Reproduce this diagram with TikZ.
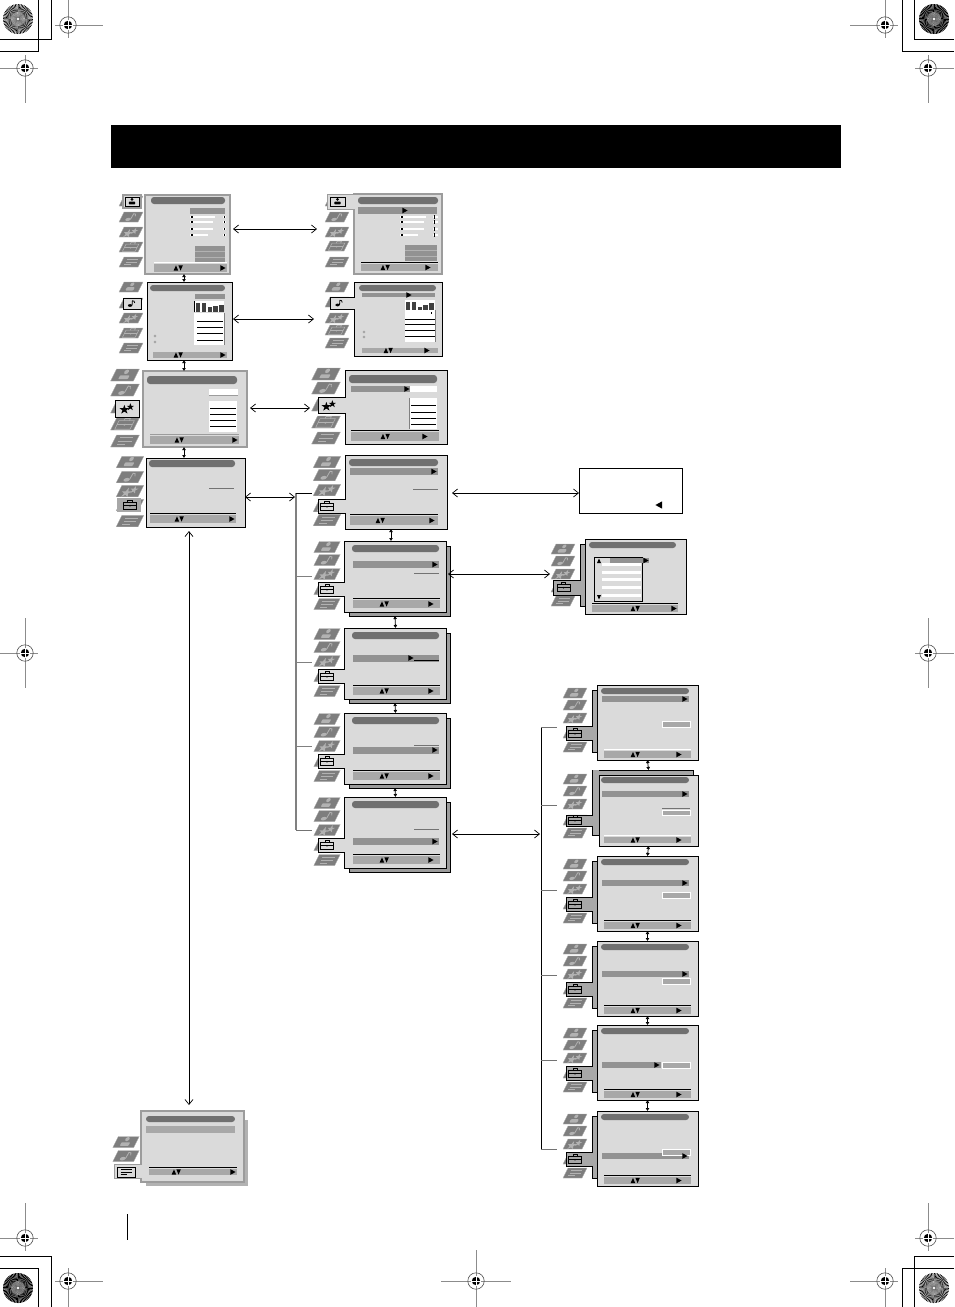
\documentclass[tikz,border=0pt]{standalone}
\usepackage{tikz}
\usetikzlibrary{arrows.meta}

\definecolor{panelgray}{HTML}{DADADA}
\definecolor{titlegray}{HTML}{707070}
\definecolor{rowgray}{HTML}{929292}
\definecolor{bargray}{HTML}{A8A8A8}
\definecolor{backgray}{HTML}{9C9C9C}
\definecolor{icongray}{HTML}{7E7E7E}
\definecolor{glyphgray}{HTML}{B2B2B2}

\tikzset{
  panelk/.style={draw=black,line width=1,fill=panelgray,inner sep=0,outer sep=0},
  panelg/.style={draw=backgray,line width=1.2,fill=panelgray,inner sep=0,outer sep=0},
  backk/.style={draw=black,line width=1,fill=backgray,inner sep=0,outer sep=0},
  backg/.style={fill=glyphgray,inner sep=0,outer sep=0},
  longarrow/.style={line width=.7,{Straight Barb[length=5,width=8]}-{Straight Barb[length=5,width=8]}},
  tinyarrow/.style={line width=.8,{Latex[length=3,width=4]}-{Latex[length=3,width=4]}}
}

% the five little pictures of the menu column
\newcommand{\icperson}[1]{%
  \fill[#1] (0,-2.4) circle (1.7);
  \fill[#1,rounded corners=.8] (-3.6,3.2) -- (-3.6,.2) -- (3.6,.2) -- (3.6,3.2) -- cycle;}
\newcommand{\icnote}[1]{%
  \fill[#1] (-1.6,2.2) ellipse (2.4 and 1.5);
  \draw[#1,line width=.8] (.6,2) -- (1,-3) .. controls (2.4,-3.4) and (3.4,-2.4) .. (3.6,-.6);}
\newcommand{\icstar}[1]{%
  \fill[#1] (-2.2,-2.6) -- (-1.2,.2) -- (1.8,.2) -- (-.6,1.9) -- (.4,4.6) -- (-2.2,3) -- (-4.8,4.6) -- (-3.8,1.9) -- (-6.2,.2) -- (-3.2,.2) -- cycle;
  \fill[#1] (2.8,-4) -- (3.6,-1.8) -- (5.8,-1.8) -- (4,-.5) -- (4.8,1.8) -- (2.8,.4) -- (.8,1.8) -- (1.6,-.5) -- (-.2,-1.8) -- (2,-1.8) -- cycle;}
\newcommand{\iccase}[1]{%
  \draw[#1,line width=.6] (-5.8,-2.6) rectangle (5.8,4);
  \draw[#1,line width=.6] (-2,-2.6) -- (-2,-4.2) -- (2,-4.2) -- (2,-2.6);
  \draw[#1,line width=.6] (-5.8,.6) -- (5.8,.6);
  \fill[#1] (0,.6) circle (.8);}
\newcommand{\iclines}[1]{%
  \draw[#1,line width=.7] (-5,-2.4) -- (5,-2.4) (-5,0) -- (5,0) (-5,2.4) -- (1,2.4);}

\newcommand{\tvicon}[4]{%
  \begin{scope}[shift={(#2,#3)},scale=#4]
    \fill[icongray,draw=glyphgray,line width=.3] (-12,5) -- (-7,-5) -- (12,-5) -- (7,5) -- cycle;
    \begin{scope}[xslant=.5,scale=1.1]
      #1{glyphgray}
    \end{scope}
  \end{scope}}
\newcommand{\tvicons}[7]{%
  \tvicon{\icperson}{#1}{#3}{#2}
  \tvicon{\icnote}{#1}{#4}{#2}
  \tvicon{\icstar}{#1}{#5}{#2}
  \tvicon{\iccase}{#1}{#6}{#2}
  \tvicon{\iclines}{#1}{#7}{#2}}
\newcommand{\selglyph}[4]{%
  \begin{scope}[shift={(#2,#3)},scale=#4]
    #1{black}
  \end{scope}}

% tab stuck to the left side of a panel: x0 y0 x1 y1 fill edge
\newcommand{\paneltab}[6]{%
  \draw[fill=#5,draw=#6,line width=1] (#1,#2) rectangle (#3,#4);
  \fill[#5] (#3-1,#2+.5) rectangle (#3+1,#4-.5);}

\newcommand{\titlebar}[4]{\fill[titlegray,rounded corners=3] (#1,#3) rectangle (#2,#4);}
\newcommand{\rowbar}[4]{\fill[rowgray] (#1,#3) rectangle (#2,#4);}
\newcommand{\updown}[2]{%
  \fill[black] (#1-4.4,#2+2.6) -- (#1-2,#2-2.6) -- (#1+.2,#2+2.6) -- cycle;
  \fill[black] (#1+.4,#2-2.6) -- (#1+2.6,#2+2.6) -- (#1+4.8,#2-2.6) -- cycle;}
\newcommand{\rightmk}[2]{\fill[black] (#1-2.6,#2-2.8) -- (#1+2.6,#2) -- (#1-2.6,#2+2.8) -- cycle;}
\newcommand{\leftmk}[2]{\fill[black] (#1+3,#2-3.6) -- (#1-3.6,#2) -- (#1+3,#2+3.6) -- cycle;}
% x0 x1 y0 y1 updown-x right-x line colour
\newcommand{\menubar}[7]{%
  \pgfmathsetmacro{\barmid}{(#3+#4)/2}
  \draw[#7,line width=.9] (#1,#3-1.4) -- (#2,#3-1.4);
  \fill[bargray] (#1,#3) rectangle (#2,#4);
  \updown{#5}{\barmid}
  \rightmk{#6}{\barmid}}
% bar chart: left edge, base line, five heights
\newcommand{\eqbars}[7]{%
  \foreach \n/\h in {0/#3,1/#4,2/#5,3/#6,4/#7}
    \fill[black!75] (#1+\n*5.8,#2) rectangle (#1+\n*5.8+4.4,#2-\h);}
\newcommand{\regmark}[6]{%
  \draw[black!45,line width=.8] (#1-#3,#2) -- (#1+#4,#2) (#1,#2-#5) -- (#1,#2+#6);
  \draw[black!70,line width=.6] (#1,#2) circle (8.2);
  \fill[black] (#1,#2) circle (4.2);
  \draw[white,line width=.6] (#1-5,#2) -- (#1+5,#2) (#1,#2-5) -- (#1,#2+5);}
% wheel in the corner: x y sector-width
\newcommand{\sunburst}[3]{%
  \foreach \a in {0,6,...,354}
    \fill[black] (#1,#2) -- ++(\a:15) arc (\a:\a+#3:15) -- cycle;
  \fill[white,opacity=.3] (#1,#2) circle (7);
  \fill[white] (#1,#2) circle (1.4);}

% left hand setup panels with the grey panel behind them
\newcommand{\stackmenu}[3]{%
  \node[backk,anchor=north west,minimum width=101,minimum height=70] (#1b) at (349,#2+5) {};
  \node[panelk,anchor=north west,minimum width=102,minimum height=71] (#1) at (344,#2) {};
  \tvicons{327}{1.1}{#2+6}{#2+19}{#2+33}{#2+48}{#2+63}
  \paneltab{318}{#2+41}{344}{#2+55}{panelgray}{black}
  \selglyph{\iccase}{327}{#2+48}{1.1}
  \titlebar{352}{439}{#2+4}{#2+11}
  \rowbar{353}{439}{#3}{#3+7}
  \menubar{353}{440}{#2+59}{#2+67}{384}{431}{black}}
% right hand panels with the strip at their left
\newcommand{\sidemenu}[6]{%
  \fill[bargray] (592,#2+5) rectangle (598,#2+67);
  \draw[black,line width=1] (598,#2+5) -- (592,#2+5) -- (592,#2+67) -- (598,#2+67);
  \node[panelk,anchor=north west,minimum width=101,minimum height=75] (#1) at (597,#2) {};
  \tvicons{575}{1}{#2+8}{#2+20}{#2+33}{#2+48}{#2+62}
  \paneltab{566}{#2+41}{592}{#2+55}{bargray}{black}
  \selglyph{\iccase}{575}{#2+48}{1.1}
  \titlebar{601}{689}{#2+3}{#2+9}
  \rowbar{602}{#5}{#3}{#3+6}
  \draw[fill=bargray,draw=white,line width=.8] (662,#4) rectangle (690,#4+6);
  \rightmk{#5-4}{#3+3}
  \menubar{604}{691}{#2+66}{#2+73}{635}{679}{#6}}

\begin{document}
\begin{tikzpicture}[x=1pt,y=-1pt]
  \useasboundingbox (0,0) rectangle (954,1307);

  % crop marks and wheels in the corners
  \draw[black,line width=.9] (0,51) -- (38,51) -- (38,0) (0,39) -- (51,39) -- (51,0);
  \draw[black,line width=.9] (954,51) -- (902,51) -- (902,0) (954,39) -- (914,39) -- (914,0);
  \draw[black,line width=.9] (0,1256) -- (51,1256) -- (51,1307) (0,1268) -- (38,1268) -- (38,1307);
  \draw[black,line width=.9] (954,1256) -- (914,1256) -- (914,1307) (954,1268) -- (902,1268) -- (902,1307);
  \sunburst{18}{19}{3}
  \sunburst{934}{19}{4.4}
  \sunburst{18}{1288}{4.4}
  \sunburst{934}{1288}{3}
  \regmark{68}{25}{13}{35}{25}{13}
  \regmark{885}{25}{35}{13}{25}{13}
  \regmark{25}{68}{25}{13}{13}{35}
  \regmark{928}{68}{13}{26}{13}{35}
  \regmark{25}{653}{25}{13}{35}{35}
  \regmark{928}{653}{13}{26}{35}{35}
  \regmark{25}{1238}{25}{13}{35}{13}
  \regmark{928}{1238}{13}{26}{35}{13}
  \regmark{68}{1281}{13}{35}{13}{26}
  \regmark{476}{1281}{35}{35}{31}{26}
  \regmark{885}{1281}{35}{13}{13}{26}

  % heading band and the rule beside the page number
  \fill[black] (111,125) rectangle (841,168);
  \fill[black] (126.5,1214) rectangle (128,1240);

  % picture menu
  \node[panelg,anchor=north west,minimum width=85,minimum height=79] (picmenu) at (145,195) {};
  \tvicons{131}{1}{201}{217}{232}{247}{262}
  \draw[backgray,fill=panelgray,line width=1.2] (123,195) rectangle (141,208);
  \draw[black,line width=.8,fill=panelgray] (125,197) rectangle (139,206);
  \selglyph{\icperson}{132}{201.5}{.9}
  \titlebar{151}{225}{197}{204}
  \rowbar{190}{225}{208}{214}
  \foreach \y/\e in {217/215,222/213,229/213,235/208} {
    \fill[white] (190,\y-1.2) rectangle (\e,\y+1.2);
    \fill[black] (191,\y-.6) rectangle (193,\y+.6);
    \fill[white] (222.5,\y-1.2) rectangle (225.5,\y+1.2);
    \fill[black] (223.5,\y-.6) rectangle (224.5,\y+.6);
  }
  \fill[rowgray] (195,246) rectangle (225,262);
  \draw[glyphgray,line width=.7] (195,251) -- (225,251) (195,257) -- (225,257);
  \menubar{154}{227}{264}{272}{178}{223}{white}

  % picture menu, first line picked
  \fill[panelgray] (327,194) rectangle (355,209);
  \node[panelg,anchor=north west,minimum width=88,minimum height=80] (picsel) at (354,194) {};
  \tvicons{337}{1}{201}{217}{232}{246}{262}
  \paneltab{327}{194}{354}{209}{panelgray}{backgray}
  \draw[black,line width=.8] (330,197) rectangle (345,206);
  \selglyph{\icperson}{337.5}{201.5}{.9}
  \titlebar{358}{438}{197}{204}
  \rowbar{358}{437}{207}{214}
  \rightmk{405}{210.5}
  \foreach \y/\e in {217/426,222/424,229/424,235/418} {
    \fill[white] (400,\y-1.2) rectangle (\e,\y+1.2);
    \fill[black] (401,\y-.6) rectangle (403,\y+.6);
    \fill[white] (433,\y-1.2) rectangle (438,\y+1.2);
    \fill[black] (434,\y-1.6) rectangle (435,\y+1.6);
  }
  \fill[rowgray] (405,245) rectangle (437,261);
  \draw[glyphgray,line width=.7] (405,250) -- (437,250) (405,256) -- (437,256);
  \menubar{361}{438}{264}{271}{385}{428}{black}

  % sound menu
  \node[panelk,anchor=north west,minimum width=85,minimum height=78] (sndmenu) at (147,282) {};
  \tvicons{131}{1}{287}{303}{318}{333}{348}
  \draw[black,line width=1,fill=panelgray] (123,298) rectangle (141,309);
  \selglyph{\icnote}{131.5}{303.5}{.9}
  \titlebar{150}{225}{285}{291}
  \rowbar{195}{225}{294}{299}
  \fill[white] (194,301) rectangle (224,312);
  \eqbars{196}{311.5}{9}{9}{5}{6}{7}
  \draw[black,line width=.8] (194.5,301) -- (194.5,312);
  \fill[white] (194,313) rectangle (224,345);
  \draw[black!50,line width=.7] (224,313) -- (224,345);
  \foreach \y in {321,327,333,340}
    \draw[black,line width=.7] (197,\y) -- (223,\y);
  \draw[black!45,line width=.4] (155,336) circle (1.2) (155,342) circle (1.2);
  \menubar{153}{227}{352}{358}{178}{223}{panelgray}

  % sound menu, first line picked
  \node[panelk,anchor=north west,minimum width=88,minimum height=74] (sndsel) at (354,282) {};
  \tvicons{337}{1}{287}{302}{318}{330}{343}
  \paneltab{330}{297}{354}{309}{panelgray}{black}
  \selglyph{\icnote}{339}{303}{.9}
  \titlebar{359}{436}{285}{291}
  \rowbar{362}{435}{293}{297}
  \rightmk{409}{295}
  \fill[white] (405,300) rectangle (435,310);
  \eqbars{406}{310}{8}{8}{3}{5}{7}
  \fill[white] (405,310) rectangle (435,342);
  \draw[black!50,line width=.7] (435,310) -- (435,342);
  \foreach \y in {319,324,330,336}
    \draw[black,line width=.7] (405,\y) -- (435,\y);
  \fill[black] (431,312) rectangle (432,314);
  \draw[black!45,line width=.4] (364,332) circle (1.2) (364,337) circle (1.2);
  \menubar{362}{438}{348}{353}{388}{427}{panelgray}

  % features menu
  \node[panelg,anchor=north west,minimum width=104,minimum height=76] (fxmenu) at (143,371) {};
  \tvicons{125}{1.2}{375}{390}{407}{424}{441}
  \draw[black,line width=1,fill=panelgray] (115,400) rectangle (139,417);
  \selglyph{\icstar}{127}{408}{1.2}
  \titlebar{147}{237}{376}{384}
  \fill[white] (209,389) rectangle (238,395);
  \draw[backgray,line width=.7] (209,395.5) -- (238,395.5);
  \fill[white] (209,401) rectangle (237,432);
  \foreach \y in {408,414,420,426}
    \draw[black,line width=.7] (210,\y) -- (236,\y);
  \menubar{150}{239}{436}{444}{179}{235}{backgray}

  % features menu, first line picked
  \node[panelk,anchor=north west,minimum width=102,minimum height=74] (fxsel) at (345,370) {};
  \tvicons{326}{1.2}{374}{388}{405}{422}{438}
  \paneltab{318}{397}{345}{413}{panelgray}{black}
  \selglyph{\icstar}{329}{405}{1.2}
  \titlebar{349}{437}{375}{383}
  \rowbar{351}{410}{386}{392}
  \fill[white] (410,386) rectangle (437,392);
  \rightmk{407}{389}
  \fill[white] (409,398) rectangle (437,429);
  \draw[black!50,line width=.7] (409,398) -- (409,429);
  \foreach \y in {405,412,418,424}
    \draw[black,line width=.7] (411,\y) -- (436,\y);
  \menubar{351}{439}{432}{441}{385}{425}{black}

  % set up menu
  \node[panelk,anchor=north west,minimum width=99,minimum height=69] (setmenu) at (146,458) {};
  \tvicons{130}{1.15}{462}{477}{491}{505}{521}
  \fill[bargray] (117,498) rectangle (141,512);
  \selglyph{\iccase}{130}{505}{1.15}
  \titlebar{149}{235}{460}{467}
  \draw[black!55,line width=.7] (209,488) -- (234,488);
  \menubar{150}{236}{515}{523}{179}{232}{black}

  % set up menu, first line picked
  \node[panelk,anchor=north west,minimum width=102,minimum height=74] (setsel) at (345,455) {};
  \tvicons{327}{1.15}{462}{475}{490}{506}{520}
  \paneltab{318}{499}{345}{513}{panelgray}{black}
  \selglyph{\iccase}{327}{506}{1.15}
  \titlebar{349}{438}{459}{466}
  \rowbar{350}{438}{468}{475}
  \rightmk{434}{471.5}
  \draw[black!55,line width=.7] (413,489) -- (438,489);
  \menubar{350}{438}{516}{525}{380}{432}{black}

  % white box
  \node[draw=black,line width=1,fill=white,inner sep=0,outer sep=0,anchor=north west,minimum width=103,minimum height=45] (notebox) at (579,468) {};
  \leftmk{659}{505}

  % the four set up lines
  \stackmenu{setone}{541}{561}
  \rightmk{435}{564.5}
  \draw[black!55,line width=.7] (414,573) -- (439,573);
  \stackmenu{settwo}{628}{655}
  \rightmk{411}{658}
  \draw[black,line width=.8] (414,660.5) -- (439,660.5);
  \stackmenu{setthree}{713}{747}
  \rightmk{435}{750}
  \draw[black!55,line width=.7] (414,745) -- (439,745);
  \stackmenu{setfour}{797}{838}
  \rightmk{435}{841.5}
  \draw[black!55,line width=.7] (414,829) -- (439,829);

  % list of choices
  \fill[bargray] (580,544) rectangle (586,606);
  \draw[black,line width=1] (586,544) -- (580,544) -- (580,606) -- (586,606);
  \node[panelk,anchor=north west,minimum width=101,minimum height=75] (listmenu) at (585,539) {};
  \tvicons{563}{1}{549}{561}{574}{587}{601}
  \paneltab{553}{580}{580}{595}{bargray}{black}
  \selglyph{\iccase}{563.5}{587}{1.1}
  \titlebar{589}{676}{542}{548}
  \draw[black,line width=1,fill=panelgray] (594.5,557) rectangle (642,601);
  \draw[black,line width=1] (594.5,557) -- (594.5,601);
  \foreach \y in {563,571,578,586,594}
    \fill[white] (602,\y) rectangle (641,\y+3);
  \rowbar{610}{649}{558}{563}
  \rightmk{646}{560.5}
  \fill[black] (597,563) -- (599,558.5) -- (601,563) -- cycle;
  \fill[black] (597,595) -- (599,599.5) -- (601,595) -- cycle;
  \menubar{592}{678}{605}{612}{635}{674}{black}

  % the six tuning lines
  \sidemenu{tuneone}{685}{696}{721}{689}{white}
  \fill[bargray] (592,770) rectangle (694,777);
  \draw[black,line width=1] (597,777) -- (592,777) -- (592,770) -- (693,770) -- (693,776);
  \fill[bargray] (592,770) rectangle (599,835);
  \draw[black,line width=1] (592,770) -- (592,835) -- (599,835);
  \node[panelk,anchor=north west,minimum width=99,minimum height=71] (tunetwo) at (599,775) {};
  \tvicons{575}{1}{779}{791}{804}{820}{833}
  \paneltab{566}{815}{592}{826}{bargray}{black}
  \selglyph{\iccase}{575}{820}{1.1}
  \titlebar{601}{689}{777}{783}
  \rowbar{602}{689}{791}{797}
  \rightmk{685}{794}
  \draw[black!55,line width=.7] (662,808) -- (690,808);
  \draw[fill=bargray,draw=white,line width=.8] (662,810) rectangle (690,815.5);
  \menubar{604}{691}{837}{843}{635}{679}{white}
  \sidemenu{tunethree}{856}{880}{892}{689}{black}
  \sidemenu{tunefour}{941}{971}{978}{689}{black}
  \sidemenu{tunefive}{1025}{1062}{1062}{661}{black}
  \sidemenu{tunesix}{1111}{1153}{1149}{689}{black}

  % pc menu
  \node[backg,anchor=north west,minimum width=102,minimum height=66] (pcback) at (146,1120) {};
  \node[panelg,anchor=north west,minimum width=103,minimum height=71] (pcmenu) at (141,1111) {};
  \tvicon{\icperson}{126}{1142}{1.1}
  \tvicon{\icnote}{126}{1156}{1.1}
  \paneltab{114}{1164}{141}{1178}{panelgray}{backgray}
  \draw[black,line width=.8] (117,1167) rectangle (135,1177);
  \selglyph{\iclines}{126}{1172}{1.1}
  \titlebar{146}{235}{1116}{1122}
  \fill[bargray] (146,1126) rectangle (235,1133);
  \menubar{149}{237}{1169}{1175}{176}{233}{black}

  % trunk of the set up lines
  \coordinate (settop) at (296,493);
  \coordinate (setend) at (296,830);
  \draw[black!50,line width=1.3] (settop) -- (setend);
  \draw[black,line width=.9] (settop) -- ++(16,0);
  \draw[black!55,line width=.9] (setend) -- ++(16,0);
  \foreach \y in {576,662,746}
    \draw[black!50,line width=.9] (296,\y) -- (312,\y);

  % trunk of the tuning lines
  \coordinate (tunetop) at (541,727);
  \coordinate (tuneend) at (541,1149);
  \draw[black,line width=.9] (tunetop) -- (tuneend);
  \foreach \y in {727,805,890,975,1060,1149}
    \draw[black!55,line width=.9] (541,\y) -- (557,\y);

  % arrows between the panels
  \coordinate (setarrow) at (295,497);
  \coordinate (tunearrow) at (540,834);
  \draw[longarrow,shorten <=3,shorten >=37] ([yshift=5.5]picmenu.east) -- ([yshift=5]picsel.west);
  \draw[longarrow,shorten <=1,shorten >=40] ([yshift=2]sndmenu.east) -- (sndsel.west);
  \draw[longarrow,shorten <=3,shorten >=35] ([yshift=1]fxmenu.east) -- ([yshift=-1]fxsel.west);
  \draw[longarrow] ([yshift=-4.5]setmenu.east) -- (setarrow);
  \draw[longarrow,shorten <=5] ([yshift=-1]setsel.east) -- ([yshift=-2.5]notebox.west);
  \draw[longarrow,shorten <=2,shorten >=35] ([yshift=2.5]setone.east) -- ([yshift=2.5]listmenu.west);
  \draw[longarrow,shorten <=2] ([yshift=3]setfourb.east) -- (tunearrow);
  \draw[longarrow,shorten <=4,shorten >=6] ([xshift=-6.5]setmenu.south) -- ([xshift=-3.5]pcmenu.north);

  \draw[tinyarrow] ([xshift=-3.5]picmenu.south) -- ([xshift=-5.5]sndmenu.north);
  \draw[tinyarrow] ([xshift=-5.5]sndmenu.south) -- ([xshift=-11]fxmenu.north);
  \draw[tinyarrow] ([xshift=-11]fxmenu.south) -- ([xshift=-11.5]setmenu.north);
  \draw[tinyarrow] ([xshift=-5]setsel.south) -- ([xshift=-4]setone.north);
  \draw[tinyarrow] ([xshift=-4.5]setoneb.south) -- ([xshift=.5]settwo.north);
  \draw[tinyarrow] ([xshift=-4.5]settwob.south) -- ([xshift=.5]setthree.north);
  \draw[tinyarrow] ([xshift=-4.5]setthreeb.south) -- ([xshift=.5]setfour.north);
  \draw[tinyarrow] (tuneone.south) -- ([yshift=5]tunetwo.north);
  \draw[tinyarrow] (tunetwo.south) -- (tunethree.north);
  \draw[tinyarrow] (tunethree.south) -- (tunefour.north);
  \draw[tinyarrow] (tunefour.south) -- (tunefive.north);
  \draw[tinyarrow] (tunefive.south) -- (tunesix.north);
\end{tikzpicture}
\end{document}
